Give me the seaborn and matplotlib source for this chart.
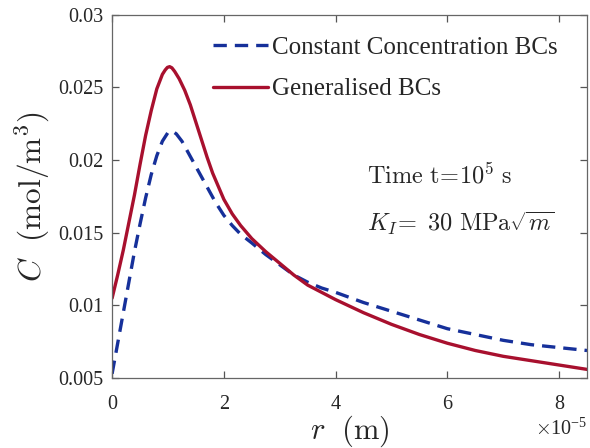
import numpy as np
import pandas as pd
import seaborn as sns
import matplotlib
matplotlib.use("Agg")
import matplotlib.pyplot as plt
from matplotlib.ticker import FuncFormatter

# r in units of 1e-5 m
r_const = [0, 0.1, 0.2, 0.3, 0.4, 0.5, 0.6, 0.7, 0.8, 0.9, 1.0, 1.08, 1.15, 1.25, 1.35, 1.45,
           1.55, 1.65, 1.75, 1.85, 2.0, 2.15, 2.3, 2.5, 2.75, 3.0, 3.25, 3.5, 3.75, 4.0,
           4.5, 5.0, 5.5, 6.0, 6.5, 7.0, 7.5, 8.0, 8.5]
c_const = [0.0053, 0.0074, 0.0095, 0.0116, 0.0137, 0.0156, 0.0174, 0.0190, 0.0203, 0.0213,
           0.0219, 0.0220, 0.0218, 0.0213, 0.0206, 0.0199, 0.0192, 0.0185, 0.0178, 0.0171,
           0.0162, 0.0155, 0.0149, 0.0143, 0.0135, 0.0128, 0.0121, 0.0116, 0.0112, 0.0109,
           0.0102, 0.0096, 0.0090, 0.0084, 0.0080, 0.0076, 0.0073, 0.0071, 0.0069]

r_gen = [0, 0.1, 0.2, 0.3, 0.4, 0.5, 0.6, 0.7, 0.8, 0.9, 0.95, 0.99, 1.03, 1.07, 1.12, 1.2,
         1.3, 1.4, 1.5, 1.6, 1.7, 1.8, 1.9, 2.0, 2.15, 2.3, 2.5, 2.75, 3.0, 3.25, 3.5, 3.75,
         4.0, 4.5, 5.0, 5.5, 6.0, 6.5, 7.0, 7.5, 8.0, 8.5]
c_gen = [0.0105, 0.0121, 0.0138, 0.0157, 0.0176, 0.0197, 0.0217, 0.0234, 0.0249, 0.0259,
         0.0262, 0.02638, 0.02643, 0.02635, 0.0261, 0.0256, 0.0248, 0.0238, 0.0226, 0.0214,
         0.0202, 0.0191, 0.0182, 0.0173, 0.0163, 0.0155, 0.0146, 0.0137, 0.0129, 0.0121,
         0.0114, 0.0109, 0.0104, 0.0095, 0.0087, 0.0080, 0.0074, 0.0069, 0.0065, 0.0062,
         0.0059, 0.0056]

labels = ["Constant Concentration BCs", "Generalised BCs"]
x_ticks = [0, 2e-5, 4e-5, 6e-5, 8e-5]
y_ticks = [0.005, 0.01, 0.015, 0.02, 0.025, 0.03]

sns.set_style("ticks")
plt.rcParams["font.family"] = ["Liberation Serif", "DejaVu Serif"]
plt.rcParams["mathtext.fontset"] = "cm"

df_c = pd.DataFrame({"r": np.array(r_const) * 1e-5, "C": c_const})
df_g = pd.DataFrame({"r": np.array(r_gen) * 1e-5, "C": c_gen})

fig = plt.figure(figsize=(5.9, 4.48), dpi=100)
ax = fig.add_axes([0.19, 0.156, 0.805, 0.811])

blue = "#16309a"
red = "#a8102e"
sns.lineplot(data=df_c, x="r", y="C", ax=ax, color=blue, lw=2.4, label=labels[0],
             linestyle=(0, (4.0, 2.4)))
sns.lineplot(data=df_g, x="r", y="C", ax=ax, color=red, lw=2.4, label=labels[1])

ax.set_xlim(0, 8.5e-5)
ax.set_ylim(0.005, 0.03)
ax.set_xticks(x_ticks)
ax.set_yticks(y_ticks)
ax.xaxis.set_major_formatter(FuncFormatter(lambda v, p: "%g" % round(v * 1e5, 6)))
ax.yaxis.set_major_formatter(FuncFormatter(lambda v, p: "%g" % v))
ax.tick_params(direction="in", top=True, right=True, labelsize=14.5, length=5,
               width=0.9, color="#555555")
ax.tick_params(axis="x", pad=12.5)
ax.tick_params(axis="y", pad=6)
for s in ax.spines.values():
    s.set_visible(True)
    s.set_color("#666666")
    s.set_linewidth(0.9)

ax.text(1.0, -0.112, r"$\times\mathregular{10^{-5}}$", transform=ax.transAxes,
        fontsize=14.5, ha="right", va="top")

ax.set_xlabel(r"$r\ \ (\mathrm{m})$", fontsize=22, labelpad=-1)
ax.set_ylabel(r"$C\ \ (\mathrm{mol/m^3})$", fontsize=22.5, labelpad=5)

leg = ax.legend(loc="upper left", bbox_to_anchor=(0.212, 0.94), frameon=False,
                fontsize=18, handlelength=2.2, handletextpad=0.15, labelspacing=0.75,
                borderaxespad=0, borderpad=0)

ax.text(0.537, 0.559, r"$\mathrm{Time\ t\!=\!10^5\ s}$", transform=ax.transAxes,
        fontsize=17.5, ha="left", va="center")
ax.text(0.537, 0.425, r"$K_I\!=\ 30\ \mathrm{MPa}\sqrt{m}$", transform=ax.transAxes,
        fontsize=17.5, ha="left", va="center")

fig.savefig("out.png", dpi=100)
